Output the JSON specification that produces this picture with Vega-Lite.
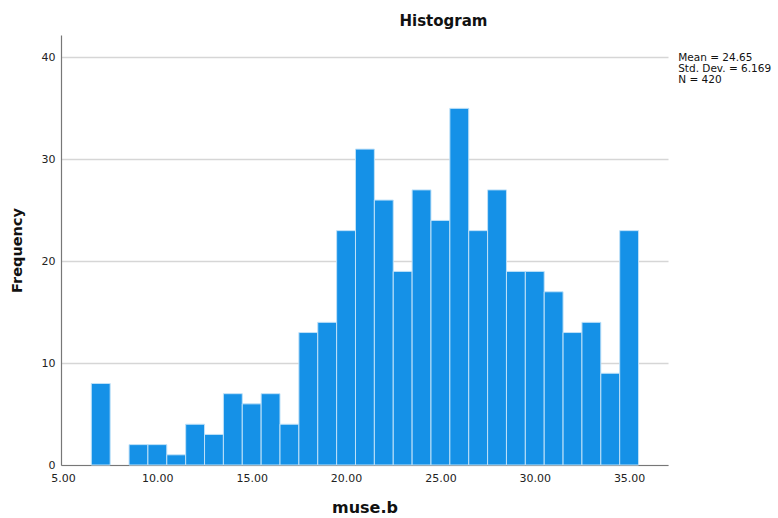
{
  "$schema": "https://vega.github.io/schema/vega-lite/v6.json",
  "width": 607,
  "height": 430,
  "autosize": "none",
  "padding": {"left": 61, "top": 35, "right": 110, "bottom": 53},
  "background": "white",
  "config": {
    "view": {"stroke": null},
    "font": "DejaVu Sans"
  },
  "title": {
    "text": "Histogram",
    "fontSize": 15,
    "fontWeight": "bold",
    "color": "#111",
    "anchor": "middle",
    "dx": 79,
    "offset": 6,
    "font": "DejaVu Sans"
  },
  "datasets": {
    "bins": [
      {"bin_start": 6.5, "bin_end": 7.5, "count": 8},
      {"bin_start": 8.5, "bin_end": 9.5, "count": 2},
      {"bin_start": 9.5, "bin_end": 10.5, "count": 2},
      {"bin_start": 10.5, "bin_end": 11.5, "count": 1},
      {"bin_start": 11.5, "bin_end": 12.5, "count": 4},
      {"bin_start": 12.5, "bin_end": 13.5, "count": 3},
      {"bin_start": 13.5, "bin_end": 14.5, "count": 7},
      {"bin_start": 14.5, "bin_end": 15.5, "count": 6},
      {"bin_start": 15.5, "bin_end": 16.5, "count": 7},
      {"bin_start": 16.5, "bin_end": 17.5, "count": 4},
      {"bin_start": 17.5, "bin_end": 18.5, "count": 13},
      {"bin_start": 18.5, "bin_end": 19.5, "count": 14},
      {"bin_start": 19.5, "bin_end": 20.5, "count": 23},
      {"bin_start": 20.5, "bin_end": 21.5, "count": 31},
      {"bin_start": 21.5, "bin_end": 22.5, "count": 26},
      {"bin_start": 22.5, "bin_end": 23.5, "count": 19},
      {"bin_start": 23.5, "bin_end": 24.5, "count": 27},
      {"bin_start": 24.5, "bin_end": 25.5, "count": 24},
      {"bin_start": 25.5, "bin_end": 26.5, "count": 35},
      {"bin_start": 26.5, "bin_end": 27.5, "count": 23},
      {"bin_start": 27.5, "bin_end": 28.5, "count": 27},
      {"bin_start": 28.5, "bin_end": 29.5, "count": 19},
      {"bin_start": 29.5, "bin_end": 30.5, "count": 19},
      {"bin_start": 30.5, "bin_end": 31.5, "count": 17},
      {"bin_start": 31.5, "bin_end": 32.5, "count": 13},
      {"bin_start": 32.5, "bin_end": 33.5, "count": 14},
      {"bin_start": 33.5, "bin_end": 34.5, "count": 9},
      {"bin_start": 34.5, "bin_end": 35.5, "count": 23}
    ],
    "stats": [
      {"label": "Mean = 24.65\nStd. Dev. = 6.169\nN = 420"}
    ]
  },
  "layer": [
    {
      "data": {"name": "bins"},
      "mark": {"type": "bar", "fill": "#1591E7", "stroke": "#BFE1F8", "strokeWidth": 1},
      "encoding": {
        "x": {
          "field": "bin_start",
          "type": "quantitative",
          "scale": {"domain": [4.894, 37.06], "nice": false, "zero": false},
          "axis": {
            "title": "muse.b",
            "values": [5, 10, 15, 20, 25, 30, 35],
            "format": ".2f",
            "grid": false,
            "ticks": false,
            "labelFlush": false,
            "labelPadding": 7,
            "labelFontSize": 11,
            "labelColor": "#222",
            "domainColor": "#777",
            "domainWidth": 1.2,
            "titleFontSize": 16,
            "titleFontWeight": "bold",
            "titleColor": "#111",
            "titlePadding": 16
          }
        },
        "x2": {"field": "bin_end"},
        "y": {
          "field": "count",
          "type": "quantitative",
          "scale": {"domain": [0, 42.2], "nice": false},
          "axis": {
            "title": "Frequency",
            "values": [0, 10, 20, 30, 40],
            "grid": true,
            "gridColor": "#d6d6d6",
            "gridWidth": 1.5,
            "ticks": false,
            "labelPadding": 6,
            "labelFontSize": 11,
            "labelColor": "#222",
            "domainColor": "#777",
            "domainWidth": 1.2,
            "titleFontSize": 14.5,
            "titleFontWeight": "bold",
            "titleColor": "#111",
            "titlePadding": 17
          }
        },
        "y2": {"datum": 0}
      }
    },
    {
      "data": {"name": "stats"},
      "mark": {
        "type": "text",
        "align": "left",
        "baseline": "top",
        "fontSize": 10.5,
        "lineHeight": 11,
        "lineBreak": "\n",
        "color": "#111",
        "clip": false
      },
      "encoding": {
        "x": {"datum": 37.6},
        "y": {"datum": 40.4},
        "text": {"field": "label"}
      }
    }
  ]
}
